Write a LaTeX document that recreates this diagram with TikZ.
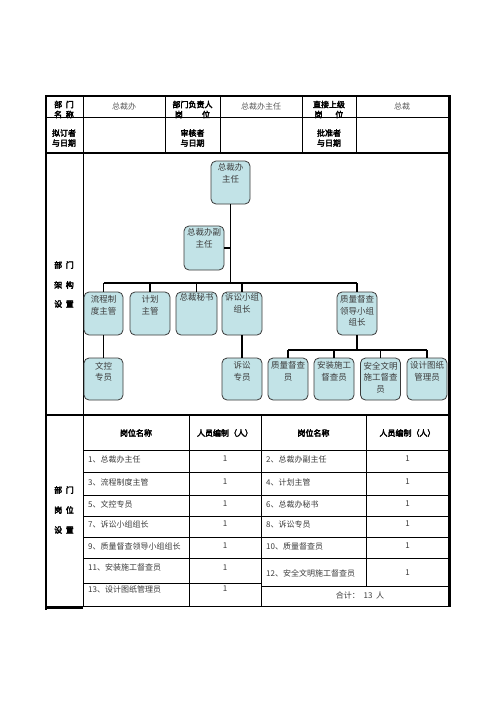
\documentclass[tikz,border=0pt]{standalone}
\usepackage{fontspec}
\setmainfont{Noto Sans CJK SC}
\newfontfamily\cjkb[FakeBold=3.5]{Noto Sans CJK SC}
\definecolor{boxfill}{HTML}{C2E3E7}
\definecolor{boxline}{HTML}{3A3A3A}
\definecolor{txt}{HTML}{3C3C3C}
\definecolor{ltxt}{HTML}{5A5A5A}
\begin{document}
\begin{tikzpicture}[x=1pt,y=-1pt,
  orgbox/.style={draw=boxline, line width=0.8pt, fill=boxfill, rounded corners=5pt,
    minimum width=39pt, minimum height=43pt, inner sep=0pt},
  boxtxt/.style={font=\fontsize{8.5}{11.5}\selectfont, text=txt, align=center, anchor=north, inner sep=0pt},
  conn/.style={line width=1.4pt},
  lbl/.style={font=\cjkb\fontsize{8}{10}\selectfont, align=center, inner sep=0pt},
  cell/.style={font=\fontsize{8}{10}\selectfont, text=txt, inner sep=0pt},
  lcell/.style={cell, anchor=west},
  thin/.style={line width=0.8pt},
  thick/.style={line width=2pt}]
\useasboundingbox[fill=white] (0,0) rectangle (496,702);

% ---------- frame ----------
\draw[thick] (45,96) -- (451,96);
\draw[line width=3pt] (449.5,95) -- (449.5,607);
\draw[line width=2.5pt] (46.2,95) -- (46.2,609.5);
\draw[line width=3.5pt] (45,607.5) -- (83,607.5);
\draw[thin] (83,606) -- (451,606);
\draw[thin] (83,96) -- (83,607);
\draw[thin] (46,117) -- (449,117);
\draw[thick] (46,153) -- (449,153);
\draw[thick] (46,415) -- (449,415);
\foreach \x in {165,220,302,356} \draw[thin] (\x,96) -- (\x,153);

% ---------- header texts ----------
\node[lbl] (h1) at (64,109.5) {部\hspace{0.45em}门\\名\hspace{0.45em}称};
\node[cell, text=ltxt] (h2) at (124,106) {总裁办};
\node[lbl] (h3) at (192.5,109.5) {部门负责人\\\makebox[4.4em][s]{岗\hfill 位}};
\node[cell, text=ltxt] (h4) at (261,106) {总裁办主任};
\node[lbl] (h5) at (329,109.5) {直接上级\\\makebox[3.6em][s]{岗\hfill 位}};
\node[cell, text=ltxt] (h6) at (402,106) {总裁};
\node[lbl] (h7) at (64,138) {拟订者\\与日期};
\node[lbl] (h8) at (192.5,138) {审核者\\与日期};
\node[lbl] (h9) at (329,138) {批准者\\与日期};

% ---------- org section labels ----------
\node[lbl] (o1) at (64,265) {部\hspace{0.45em}门};
\node[lbl] (o2) at (64,285) {架\hspace{0.45em}构};
\node[lbl] (o3) at (64,304) {设\hspace{0.45em}置};

% ---------- org chart ----------
\node[orgbox] (zr) at (230.5,182.5) {};
\node[boxtxt] (zrt) at ([yshift=-3pt]zr.north) {总裁办\\主任};
\node[orgbox, minimum width=40pt, minimum height=44pt] (fzr) at (204,248) {};
\node[boxtxt] (fzrt) at ([yshift=-3pt]fzr.north) {总裁办副\\主任};

\node[orgbox] (lc) at (103.5,313.5) {};
\node[orgbox, minimum width=40pt] (jh) at (150,313.5) {};
\node[orgbox, minimum width=41pt] (ms) at (196.5,313.5) {};
\node[orgbox, minimum width=40pt] (ss) at (242,313.5) {};
\node[orgbox, minimum width=40pt] (zl) at (357,313.5) {};
\node[boxtxt] (lct) at ([yshift=-4pt]lc.north) {流程制\\度主管};
\node[boxtxt] (jht) at ([yshift=-4pt]jh.north) {计划\\主管};
\node[boxtxt] (mst) at ([yshift=-2pt]ms.north) {总裁秘书};
\node[boxtxt] (sst) at ([yshift=-2pt]ss.north) {诉讼小组\\组长};
\node[boxtxt] (zlt) at ([yshift=-4pt]zl.north) {质量督查\\领导小组\\组长};

\node[orgbox, minimum height=42pt] (wk) at (103.5,379) {};
\node[orgbox, minimum width=40pt, minimum height=42pt] (sy) at (242,379) {};
\node[orgbox, minimum width=40pt, minimum height=42pt] (zly) at (288,379) {};
\node[orgbox, minimum width=40pt, minimum height=42pt] (az) at (334,379) {};
\node[orgbox, minimum width=40pt, minimum height=42pt] (aq) at (380.5,379) {};
\node[orgbox, minimum width=40pt, minimum height=42pt] (sj) at (427,379) {};
\node[boxtxt] (wkt) at ([yshift=-4pt]wk.north) {文控\\专员};
\node[boxtxt] (syt) at ([yshift=-4pt]sy.north) {诉讼\\专员};
\node[boxtxt] (zlyt) at ([yshift=-4pt]zly.north) {质量督查\\员};
\node[boxtxt] (azt) at ([yshift=-4pt]az.north) {安装施工\\督查员};
\node[boxtxt] (aqt) at ([yshift=-4pt]aq.north) {安全文明\\施工督查\\员};
\node[boxtxt] (sjt) at ([yshift=-4pt]sj.north) {设计图纸\\管理员};

\coordinate (b1) at (0,283);
\coordinate (b2) at (0,350);
\draw[conn] (zr.south) -- (zr.south |- b1);
\draw[conn] (fzr.east) -- (fzr.east -| zr.south);
\draw[conn] (lc.north |- b1) -- (zl.north |- b1);
\foreach \n in {lc,jh,ms,ss,zl} \draw[conn] (\n.north) -- (\n.north |- b1);
\draw[conn] (lc.south) -- (wk.north);
\draw[conn] (ss.south) -- (sy.north);
\draw[conn] (zl.south) -- (zl.south |- b2);
\draw[conn] (zly.north |- b2) -- (sj.north |- b2);
\foreach \n in {zly,az,aq,sj} \draw[conn] (\n.north) -- (\n.north |- b2);

% ---------- staffing table ----------
\foreach \y in {450,472,495,516,537,558} \draw[thin] (83,\y) -- (449,\y);
\draw[thin] (83,583) -- (261,583);
\draw[thin] (261,586) -- (449,586);
\draw[thin] (189,415) -- (189,606);
\draw[thin] (261,415) -- (261,606);
\draw[thin] (366,415) -- (366,586);

\node[lbl] (p1) at (64,490) {部\hspace{0.45em}门};
\node[lbl] (p2) at (64,510) {岗\hspace{0.45em}位};
\node[lbl] (p3) at (64,530) {设\hspace{0.45em}置};

\node[lbl] (t1) at (136,433) {岗位名称};
\node[lbl] (t2) at (225,433) {人员编制（人）};
\node[lbl] (t3) at (313.5,433) {岗位名称};
\node[lbl] (t4) at (407.5,433) {人员编制（人）};

\node[lcell] (r1a) at (88,459) {1、总裁办主任};
\node[cell] (r1b) at (225,459) {1};
\node[lcell] (r1c) at (266,459) {2、总裁办副主任};
\node[cell] (r1d) at (407.5,459) {1};

\node[lcell] (r2a) at (88,482) {3、流程制度主管};
\node[cell] (r2b) at (225,482) {1};
\node[lcell] (r2c) at (266,482) {4、计划主管};
\node[cell] (r2d) at (407.5,482) {1};

\node[lcell] (r3a) at (88,504) {5、文控专员};
\node[cell] (r3b) at (225,504) {1};
\node[lcell] (r3c) at (266,504) {6、总裁办秘书};
\node[cell] (r3d) at (407.5,504) {1};

\node[lcell] (r4a) at (88,524) {7、诉讼小组组长};
\node[cell] (r4b) at (225,524) {1};
\node[lcell] (r4c) at (266,524) {8、诉讼专员};
\node[cell] (r4d) at (407.5,524) {1};

\node[lcell] (r5a) at (88,546) {9、质量督查领导小组组长};
\node[cell] (r5b) at (225,546) {1};
\node[lcell] (r5c) at (266,546) {10、质量督查员};
\node[cell] (r5d) at (407.5,546) {1};

\node[lcell] (r6a) at (88,567) {11、安装施工督查员};
\node[cell] (r6b) at (225,568) {1};
\node[lcell] (r6c) at (266,573) {12、安全文明施工督查员};
\node[cell] (r6d) at (407.5,573) {1};

\node[lcell] (r7a) at (88,589) {13、设计图纸管理员};
\node[cell] (r7b) at (225,589) {1};
\node[cell] (r7c) at (360,595) {合计：\ \ 13\ \ 人};
\end{tikzpicture}
\end{document}
